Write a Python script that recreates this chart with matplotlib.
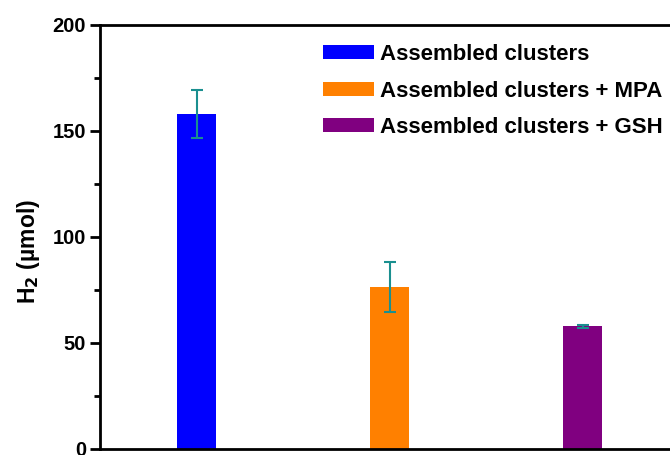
import numpy as np
import matplotlib; matplotlib.use("Agg")
import matplotlib.pyplot as plt
from matplotlib.ticker import MultipleLocator

plt.rcParams["font.family"] = ["Liberation Sans", "DejaVu Sans"]
plt.rcParams["font.weight"] = "bold"

LABELS = ["Assembled clusters", "Assembled clusters + MPA", "Assembled clusters + GSH"]
H2 = [158.0, 76.5, 57.8]
ERR = [11.5, 11.8, 0.5]
COLORS = ["#0000ff", "#ff8000", "#800080"]

fig = plt.figure(figsize=(6.7, 4.55), dpi=100)
ax = fig.add_axes([100 / 670, 6 / 455, 579 / 670, 424 / 455])

x = np.arange(1, len(H2) + 1)
for xi, h, e, c, lab in zip(x, H2, ERR, COLORS, LABELS):
    ax.bar(xi, h, width=0.2, color=c, label=lab, zorder=2)
    ax.errorbar(xi, h, yerr=e, color="#1a8f8f", capsize=4, capthick=1.5, elinewidth=1.5, zorder=3)

ax.set_xlim(0.5, 3.5)
ax.set_ylim(0, 200)
ax.set_xticks([])
ax.yaxis.set_major_locator(MultipleLocator(50))
ax.yaxis.set_minor_locator(MultipleLocator(25))
ax.tick_params(axis="y", which="major", direction="out", length=7, width=2, labelsize=14.5, pad=3)
ax.tick_params(axis="y", which="minor", direction="out", length=4, width=2)
for s in ax.spines.values():
    s.set_linewidth(2)
for t in ax.get_yticklabels():
    t.set_fontweight("bold")
ax.set_ylabel("H$_\\mathbf{2}$ (µmol)", fontsize=16.5, fontweight="bold")
ax.yaxis.set_label_coords(-0.1, 0.465)

ax.legend(loc="upper left", bbox_to_anchor=(323 / 670, 1 - 44 / 455), bbox_transform=fig.transFigure,
          frameon=False, handlelength=2.3, handleheight=0.6, handletextpad=0.28,
          labelspacing=0.7, borderpad=0, borderaxespad=0, prop={"weight": "bold", "size": 16})

fig.savefig("out.png", dpi=100)
